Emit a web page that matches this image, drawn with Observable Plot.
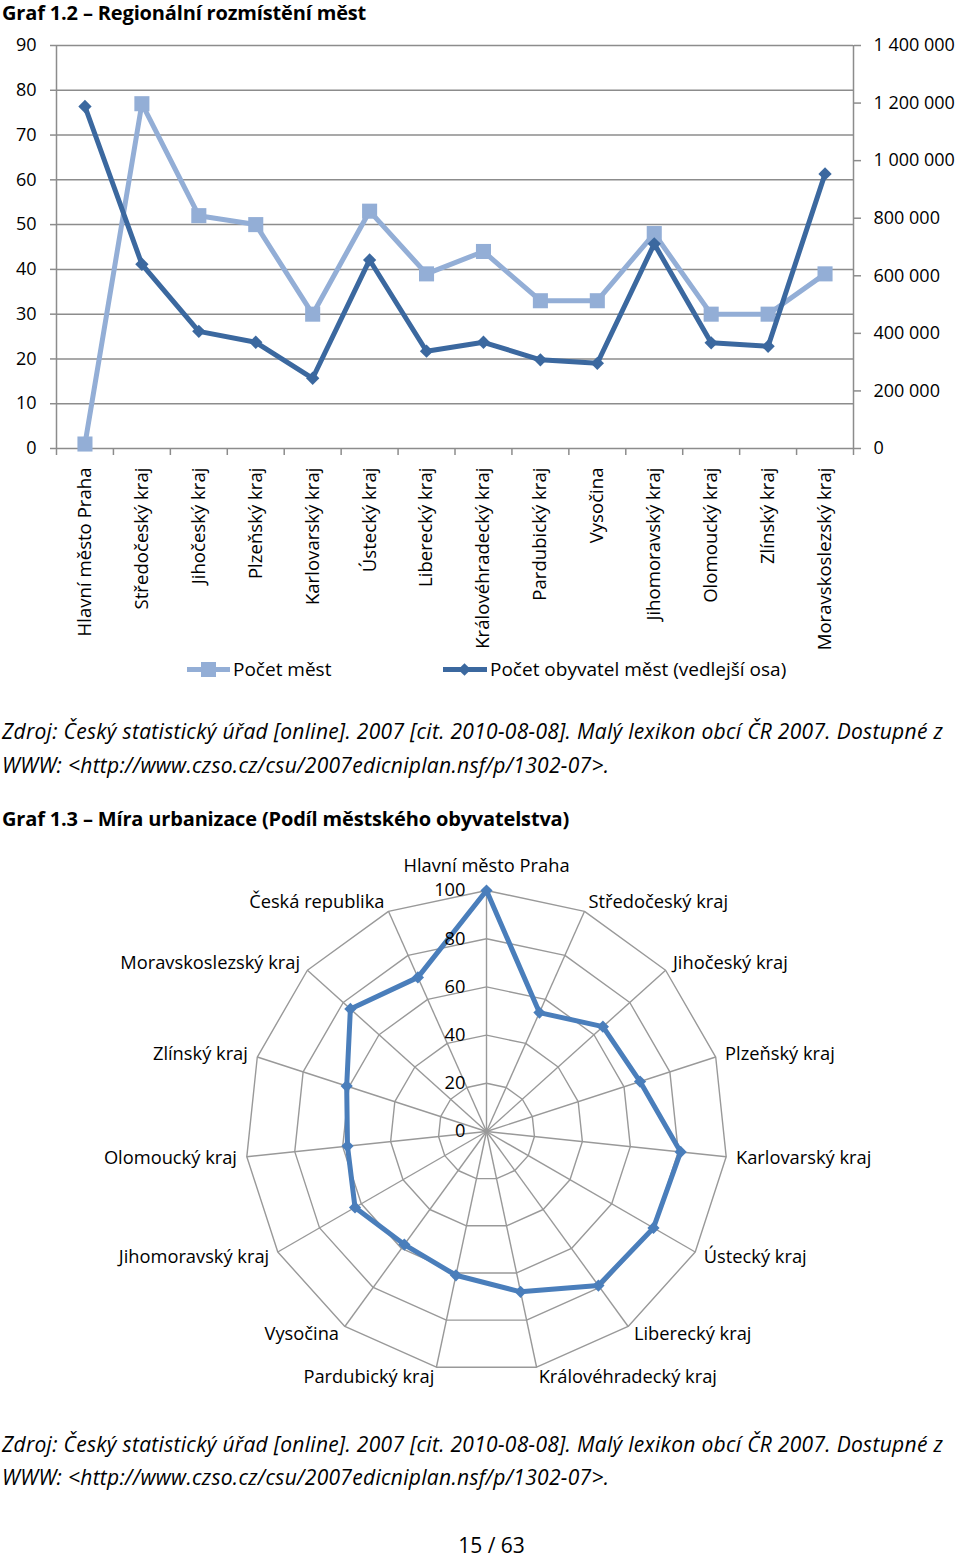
<!DOCTYPE html>
<html><head><meta charset="utf-8">
<script src="https://cdn.jsdelivr.net/npm/d3@7"></script>
<script src="https://cdn.jsdelivr.net/npm/@observablehq/plot@0.6"></script>
<style>
body{margin:0;background:#fff;font-family:"Open Sans",sans-serif;color:#000;}
#page{position:relative;width:960px;height:1559px;overflow:hidden;}
.t{position:absolute;white-space:nowrap;line-height:26px;}
.title{font-weight:bold;font-size:20px;letter-spacing:-0.16px;left:2px;}
.src{font-style:italic;font-size:21px;left:2px;letter-spacing:0.3px;}
.lg{font-size:19px;}
.abs{position:absolute;}
</style></head><body><div id="page">
<div class="t title" style="top:0px">Graf 1.2 – Regionální rozmístění měst</div>
<div id="c1" class="abs" style="left:0;top:30px"></div>
<div class="abs" style="left:187px;top:667px;width:43px;height:5px;background:#93AED6"></div>
<div class="abs" style="left:201px;top:662px;width:15px;height:15px;background:#93AED6"></div>
<div class="t lg" style="left:233px;top:656px">Počet měst</div>
<div class="abs" style="left:443px;top:667px;width:44px;height:5px;background:#3B689F"></div>
<div class="abs" style="left:460px;top:665px;width:9px;height:9px;background:#3B689F;transform:rotate(45deg)"></div>
<div class="t lg" style="left:490px;top:656px">Počet obyvatel měst (vedlejší osa)</div>
<div class="t src" style="top:718px">Zdroj: Český statistický úřad [online]. 2007 [cit. 2010-08-08]. Malý lexikon obcí ČR 2007. Dostupné z</div>
<div class="t src" style="top:752px">WWW: &lt;http://www.czso.cz/csu/2007edicniplan.nsf/p/1302-07&gt;.</div>
<div class="t title" style="top:806px">Graf 1.3 – Míra urbanizace (Podíl městského obyvatelstva)</div>
<div id="c2" class="abs" style="left:0;top:845px"></div>
<div class="t src" style="top:1431px">Zdroj: Český statistický úřad [online]. 2007 [cit. 2010-08-08]. Malý lexikon obcí ČR 2007. Dostupné z</div>
<div class="t src" style="top:1464px">WWW: &lt;http://www.czso.cz/csu/2007edicniplan.nsf/p/1302-07&gt;.</div>
<div class="t" style="left:0;width:983px;text-align:center;top:1532px;font-size:21px">15 / 63</div>
</div>
<script>
// ---- Data: Graf 1.2 ----
const regions = ["Hlavní město Praha","Středočeský kraj","Jihočeský kraj","Plzeňský kraj","Karlovarský kraj","Ústecký kraj","Liberecký kraj","Královéhradecký kraj","Pardubický kraj","Vysočina","Jihomoravský kraj","Olomoucký kraj","Zlínský kraj","Moravskoslezský kraj"];
const townCounts = [1,77,52,50,30,53,39,44,33,33,48,30,30,39];
const townPopulation = [1188000,640000,407000,369000,244000,655000,338000,369000,308000,296000,711000,367000,355000,954000];
const leftTicks = [0,10,20,30,40,50,60,70,80,90];
const rightTicks = [0,200000,400000,600000,800000,1000000,1200000,1400000];

// ---- Data: Graf 1.3 ----
const radarCategories = ["Hlavní město Praha","Středočeský kraj","Jihočeský kraj","Plzeňský kraj","Karlovarský kraj","Ústecký kraj","Liberecký kraj","Královéhradecký kraj","Pardubický kraj","Vysočina","Jihomoravský kraj","Olomoucký kraj","Zlínský kraj","Moravskoslezský kraj","Česká republika"];
const urbanization = [100,54,65,67,81,80,79,68,61,58,63,58,61,76,70];
const radarTicks = [0,20,40,60,80,100];

const light = "#93AED6", dark = "#3B689F", gridC = "#8c8c8c";
const leftMax = 90, popMax = 1400000;
const toLeft = p => p / popMax * leftMax;
const fmtPop = v => d3.format(",")(v).replace(/,/g, "\u00a0");

const rows = regions.map((r, i) => ({i, region: r, towns: townCounts[i], pop: townPopulation[i]}));
const boundaries = d3.range(regions.length + 1).map(i => i - 0.5);

const chart1 = Plot.plot({
  width: 960, height: 628,
  marginTop: 15, marginBottom: 210, marginLeft: 56, marginRight: 107,
  x: {type: "linear", domain: [-0.5, regions.length - 0.5], axis: null},
  y: {domain: [0, leftMax], axis: null},
  style: {fontFamily: "Open Sans", fontSize: "18px", color: "#000", background: "transparent"},
  marks: [
    Plot.ruleY(leftTicks, {stroke: gridC, strokeWidth: 1.5}),
    Plot.ruleX([-0.5, regions.length - 0.5], {y1: 0, y2: leftMax, stroke: gridC, strokeWidth: 1.5}),
    Plot.axisY(leftTicks, {anchor: "left", label: null, tickSize: 6, tickPadding: 14, stroke: gridC, strokeWidth: 1.5, fill: "#000"}),
    Plot.axisY(rightTicks.map(toLeft), {anchor: "right", label: null, tickSize: 7, tickPadding: 13, stroke: gridC, strokeWidth: 1.5, fill: "#000",
      tickFormat: d => fmtPop(Math.round(d / leftMax * popMax / 1000) * 1000)}),
    Plot.axisX(boundaries, {anchor: "bottom", label: null, tickSize: 7, tickFormat: () => "", stroke: gridC, strokeWidth: 1.5}),
    Plot.axisX(rows.map(d => d.i), {anchor: "bottom", label: null, tickSize: 0, tickPadding: 19, tickRotate: -90, fill: "#000", fontSize: 18.6,
      tickFormat: i => regions[i]}),
    Plot.line(rows, {x: "i", y: "towns", stroke: light, strokeWidth: 5}),
    Plot.dot(rows, {x: "i", y: "towns", symbol: "square", r: 8.5, fill: light}),
    Plot.line(rows, {x: "i", y: d => toLeft(d.pop), stroke: dark, strokeWidth: 5}),
    Plot.dot(rows, {x: "i", y: d => toLeft(d.pop), symbol: "diamond2", r: 6, fill: dark})
  ]
});
document.getElementById("c1").append(chart1);

// ---- Radar ----
const n = radarCategories.length;
const k = 2.41; // px per unit
const W = 960, H = 555, cx = 486, cy = 286;
const ang = i => 2 * Math.PI * i / n;
const px = (v, i) => v * Math.sin(ang(i));
const py = (v, i) => v * Math.cos(ang(i));
const rings = radarTicks.filter(t => t > 0).flatMap(t => d3.range(n + 1).map(j => ({ring: t, x: px(t, j % n), y: py(t, j % n)})));
const spokes = radarCategories.map((c, i) => ({x2: px(100, i), y2: py(100, i)}));
const pts = urbanization.map((v, i) => ({cat: radarCategories[i], x: px(v, i), y: py(v, i)}));
const closed = [...pts, pts[0]];
const lr = 104.1;
const labels = radarCategories.map((c, i) => {
  const s = Math.sin(ang(i));
  return {c, x: px(lr, i), y: py(lr, i), anchor: Math.abs(s) < 1e-6 ? "middle" : s > 0 ? "start" : "end"};
});

const chart2 = Plot.plot({
  width: W, height: H, margin: 0,
  x: {domain: [-cx / k, (W - cx) / k], range: [0, W], axis: null},
  y: {domain: [-(H - cy) / k, cy / k], range: [H, 0], axis: null},
  style: {fontFamily: "Open Sans", fontSize: "18.3px", color: "#000", background: "transparent", overflow: "visible"},
  marks: [
    Plot.line(rings, {x: "x", y: "y", z: "ring", stroke: "#999", strokeWidth: 1.4}),
    Plot.link(spokes, {x1: 0, y1: 0, x2: "x2", y2: "y2", stroke: "#999", strokeWidth: 1.4}),
    Plot.line(closed, {x: "x", y: "y", stroke: "#4A7EBB", strokeWidth: 5, strokeLinejoin: "miter"}),
    Plot.dot(pts, {x: "x", y: "y", symbol: "diamond2", r: 5.5, fill: "#4A7EBB"}),
    Plot.text(radarTicks, {x: 0, y: d => d, text: d => String(d), textAnchor: "end", dx: -21, fill: "#000"}),
    Plot.text(labels.filter(d => d.anchor === "start"), {x: "x", y: "y", text: "c", textAnchor: "start", lineAnchor: "middle", fill: "#000"}),
    Plot.text(labels.filter(d => d.anchor === "end"), {x: "x", y: "y", text: "c", textAnchor: "end", lineAnchor: "middle", fill: "#000"}),
    Plot.text(labels.filter(d => d.anchor === "middle"), {x: "x", y: "y", text: "c", textAnchor: "middle", lineAnchor: "bottom", dy: -9, fill: "#000"})
  ]
});
document.getElementById("c2").append(chart2);
</script>
</body></html>
